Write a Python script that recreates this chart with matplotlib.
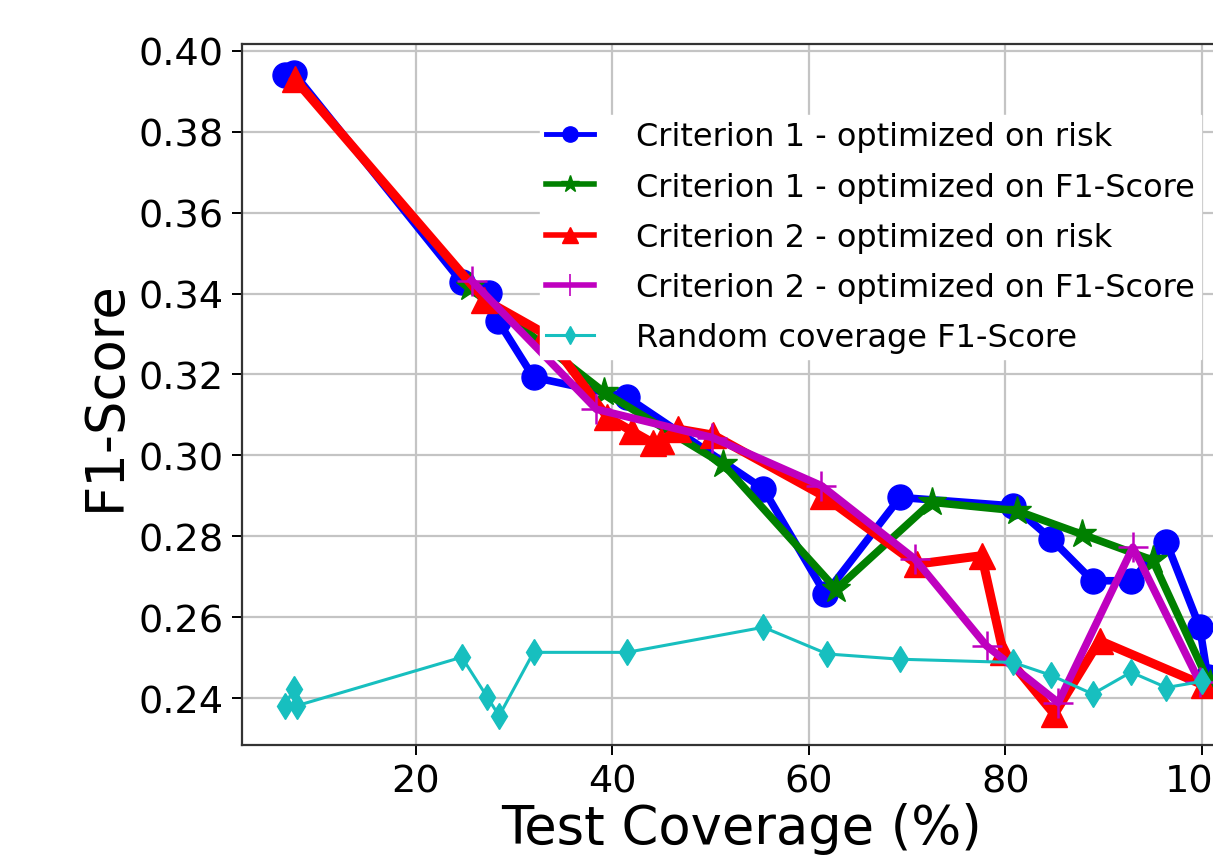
import matplotlib
matplotlib.use("Agg")
import matplotlib.pyplot as plt
from matplotlib.lines import Line2D

# coverage (%) and F1-score for each curve
c1_risk_x = [6.7, 7.6, 24.7, 27.5, 28.4, 32.0, 41.5, 55.4, 61.7, 69.3, 80.8, 84.7, 88.9, 92.8, 96.4, 99.8, 100.6]
c1_risk_y = [0.3940, 0.3945, 0.3428, 0.3401, 0.3332, 0.3193, 0.3144, 0.2917, 0.2657, 0.2896, 0.2875, 0.2793, 0.2690, 0.2690, 0.2785, 0.2575, 0.2452]

c1_f1_x = [25.5, 39.2, 51.3, 62.8, 72.5, 81.2, 87.8, 95.0, 100.8]
c1_f1_y = [0.3416, 0.3156, 0.2978, 0.2669, 0.2884, 0.2863, 0.2805, 0.2741, 0.2435]

c2_risk_x = [7.7, 27.0, 33.2, 39.5, 42.0, 44.2, 45.0, 46.7, 50.3, 61.5, 71.0, 77.6, 79.8, 85.0, 89.6, 100.2]
c2_risk_y = [0.3930, 0.3385, 0.3300, 0.3095, 0.3060, 0.3030, 0.3035, 0.3065, 0.3050, 0.2900, 0.2731, 0.2752, 0.2513, 0.2360, 0.2542, 0.2432]

c2_f1_x = [25.7, 38.4, 50.2, 61.3, 70.8, 78.1, 85.4, 93.0, 99.8]
c2_f1_y = [0.3432, 0.3114, 0.3044, 0.2925, 0.2744, 0.2529, 0.2389, 0.2773, 0.2439]

rand_x = [6.7, 7.6, 7.9, 24.7, 27.3, 28.5, 32.0, 41.5, 55.4, 61.9, 69.3, 80.8, 84.7, 88.9, 92.8, 96.4, 100.0]
rand_y = [0.2381, 0.2423, 0.2381, 0.2501, 0.2402, 0.2356, 0.2513, 0.2513, 0.2575, 0.2509, 0.2496, 0.2488, 0.2456, 0.2410, 0.2464, 0.2426, 0.2441]

labels = ["Criterion 1 - optimized on risk",
          "Criterion 1 - optimized on F1-Score",
          "Criterion 2 - optimized on risk",
          "Criterion 2 - optimized on F1-Score",
          "Random coverage F1-Score"]

fig = plt.figure(figsize=(12.13, 8.62), dpi=100)
# axes run off the right edge, like the cropped original
ax = fig.add_axes([0.1995, 0.1346, 0.8228, 0.8132])

ax.plot(c1_risk_x, c1_risk_y, "b-o", lw=5.5, ms=18)
ax.plot(c1_f1_x, c1_f1_y, "g-*", lw=5.5, ms=21)
ax.plot(c2_risk_x, c2_risk_y, "r-^", lw=6.5, ms=19)
ax.plot(c2_f1_x, c2_f1_y, "m-+", lw=5.5, ms=22, mew=1.8)
ax.plot(rand_x, rand_y, "c-d", lw=2.2, ms=13, color="#17bfbf")

ax.set_xlim(2.33, 103.9)
ax.set_ylim(0.2284, 0.4017)
ax.set_xticks([20, 40, 60, 80, 100])
ax.set_yticks([0.24, 0.26, 0.28, 0.30, 0.32, 0.34, 0.36, 0.38, 0.40])
ax.yaxis.set_major_formatter(matplotlib.ticker.FormatStrFormatter("%.2f"))
ax.grid(True, color="#c4c4c4", lw=1.6)
ax.set_axisbelow(True)
ax.tick_params(labelsize=27.5, length=7, width=1.4, pad=6)
for s in ax.spines.values():
    s.set_linewidth(1.6)
    s.set_color("#333333")

ax.set_xlabel("Test Coverage (%)", fontsize=38, labelpad=2)
ax.set_ylabel("F1-Score", fontsize=38, labelpad=6)

# smaller markers in the legend than on the curves
handles = [Line2D([], [], color="b", marker="o", lw=3.5, ms=11),
           Line2D([], [], color="g", marker="*", lw=4, ms=13),
           Line2D([], [], color="r", marker="^", lw=4, ms=11),
           Line2D([], [], color="m", marker="+", lw=4, ms=16, mew=1.2),
           Line2D([], [], color="#17bfbf", marker="d", lw=2.2, ms=9)]
leg = ax.legend(handles, labels, loc="upper left",
                bbox_to_anchor=(540 / 1213, 1 - 116 / 862), bbox_transform=fig.transFigure,
                fontsize=23, frameon=True, fancybox=False, framealpha=1,
                edgecolor="white", borderpad=0.2, labelspacing=0.6,
                handlelength=1.5, handletextpad=1.3, borderaxespad=0)

fig.savefig("out.png", dpi=100)
